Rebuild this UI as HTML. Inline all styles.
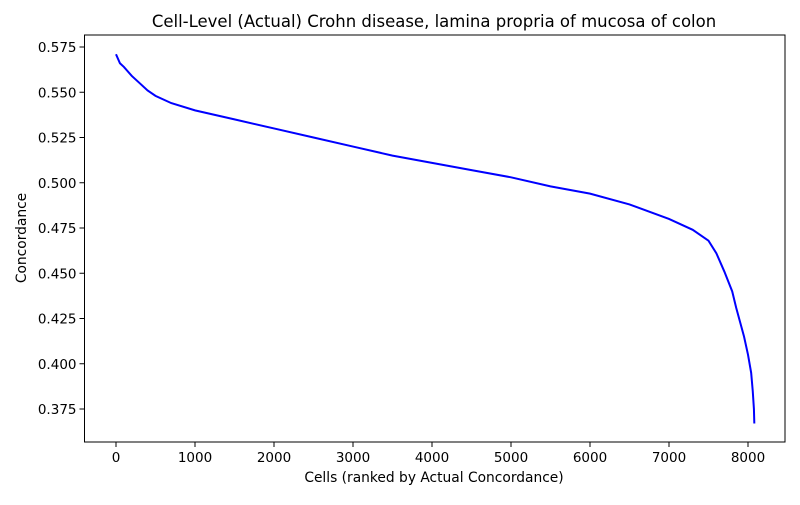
<!DOCTYPE html>
<html><head><meta charset="utf-8"><style>
body{margin:0;background:#fff;font-family:"Liberation Sans","DejaVu Sans",sans-serif}
svg text{font-family:"DejaVu Sans","Liberation Sans",sans-serif;fill:#000}
</style></head><body>
<svg id="c" width="800" height="500"></svg>
<script>
const xs=[0,50,100,200,300,400,500,700,1000,1500,2000,2500,3000,3500,4000,4500,5000,5500,6000,6500,7000,7300,7500,7600,7700,7800,7850,7900,7950,8000,8040,8060,8075,8080];
const ys=[0.571,0.566,0.564,0.559,0.555,0.551,0.548,0.544,0.540,0.535,0.530,0.525,0.520,0.515,0.511,0.507,0.503,0.498,0.494,0.488,0.480,0.474,0.468,0.461,0.451,0.440,0.431,0.423,0.415,0.405,0.395,0.385,0.375,0.367];
const xTicks=[0,1000,2000,3000,4000,5000,6000,7000,8000];
const yTicks=[0.375,0.400,0.425,0.450,0.475,0.500,0.525,0.550,0.575];
const L=84.5,R=785,T=35,B=442;
const X=v=>116+v*(748-116)/8000;
const Y=v=>409+(v-0.375)*(47-409)/0.2;
const svg=document.getElementById('c');const NS='http://www.w3.org/2000/svg';
function el(t,a,p){const e=document.createElementNS(NS,t);for(const k in a)e.setAttribute(k,a[k]);(p||svg).appendChild(e);return e;}
const frame=el('rect',{x:L,y:T,width:R-L,height:B-T,fill:'none',stroke:'#000','stroke-width':1});


xTicks.forEach(v=>{const x=X(v);
const t=el('line',{x1:x,x2:x,y1:B,y2:B+5,stroke:'#000'});


const l=el('text',{x:x,y:B+20,'font-size':13.5,'text-anchor':'middle'});l.textContent=v;

});
yTicks.forEach(v=>{const y=Y(v);
const t=el('line',{x1:L-5,x2:L,y1:y,y2:y,stroke:'#000'});


const l=el('text',{x:L-8,y:y+5,'font-size':13.5,'text-anchor':'end'});l.textContent=v.toFixed(3);

});
const line=el('polyline',{points:xs.map((v,i)=>X(v)+','+Y(ys[i])).join(' '),fill:'none',stroke:'#0000ff','stroke-width':2});


const tt=el('text',{x:434,y:27,'font-size':16.5,'text-anchor':'middle'});tt.textContent='Cell-Level (Actual) Crohn disease, lamina propria of mucosa of colon';


const xt=el('text',{x:434,y:482,'font-size':13.8,'text-anchor':'middle'});xt.textContent='Cells (ranked by Actual Concordance)';


const yt=el('text',{x:26,y:238,'font-size':13.8,'text-anchor':'middle',transform:'rotate(-90 26 238)'});yt.textContent='Concordance';


</script>
</body></html>
